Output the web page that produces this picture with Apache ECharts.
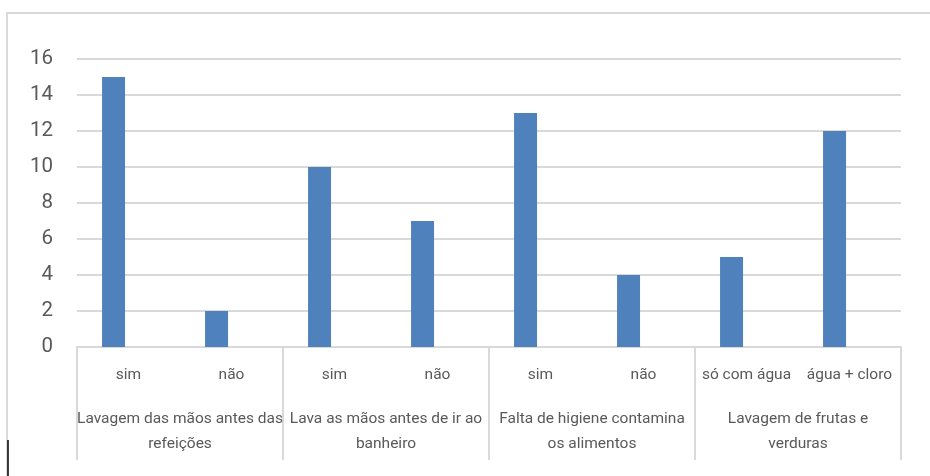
<!DOCTYPE html>
<html>
<head>
<meta charset="utf-8">
<script src="https://cdn.jsdelivr.net/npm/echarts@6/dist/echarts.min.js"></script>
<style>html,body{margin:0;padding:0;background:#fff;}#c{width:930px;height:476px;}</style>
</head>
<body>
<div id="c"></div>
<script>
var categories = ['sim', 'não', 'sim', 'não', 'sim', 'não', 'só com água', 'água + cloro'];
var groups = ['Lavagem das mãos antes das\nrefeições', 'Lava as mãos antes de ir ao\nbanheiro', 'Falta de higiene contamina\nos alimentos', 'Lavagem de frutas e\nverduras'];
var values = [15, 2, 10, 7, 13, 4, 5, 12];
var emptySeries = [null, null, null, null, null, null, null, null];
var yTicks = [0, 16, 2];

var FONT = 'Roboto, "Liberation Sans", sans-serif';
var chart = echarts.init(document.getElementById('c'));
chart.setOption({
  animation: false,
  backgroundColor: '#fff',
  textStyle: {fontFamily: FONT},
  graphic: [
    {type: 'rect', shape: {x: 7, y: 13, width: 960, height: 500}, style: {fill: 'none', stroke: '#d9d9d9', lineWidth: 2}, silent: true},
    {type: 'line', shape: {x1: 8, y1: 440, x2: 8, y2: 476}, style: {stroke: '#000', lineWidth: 1.5}, silent: true}
  ],
  grid: {left: 77, right: 29, top: 59, bottom: 129, containLabel: false},
  xAxis: [
    {
      type: 'category', data: categories, position: 'bottom',
      axisLine: {show: true, lineStyle: {color: '#d9d9d9', width: 2}},
      axisTick: {show: false},
      axisLabel: {interval: 0, margin: 20, color: '#595959', fontSize: 15.5, fontFamily: FONT}
    },
    {
      type: 'category', data: groups, position: 'bottom',
      axisLine: {show: false},
      axisTick: {show: true, interval: 0, length: 113, lineStyle: {color: '#d9d9d9', width: 2}},
      axisLabel: {interval: 0, margin: 60, color: '#595959', fontSize: 15.5, lineHeight: 25, fontFamily: FONT, align: 'center'}
    }
  ],
  yAxis: {
    type: 'value', min: yTicks[0], max: yTicks[1], interval: yTicks[2],
    axisLine: {show: false}, axisTick: {show: false},
    axisLabel: {color: '#595959', fontSize: 20.5, margin: 24, fontFamily: FONT},
    splitLine: {lineStyle: {color: '#d9d9d9', width: 2}}
  },
  series: [
    {type: 'bar', xAxisIndex: 0, data: values, barWidth: 23, barGap: '30%', itemStyle: {color: '#4f81bd'}},
    {type: 'bar', xAxisIndex: 0, data: emptySeries, barWidth: 23, barGap: '30%', itemStyle: {color: '#c0504d'}}
  ]
});
</script>
</body>
</html>
